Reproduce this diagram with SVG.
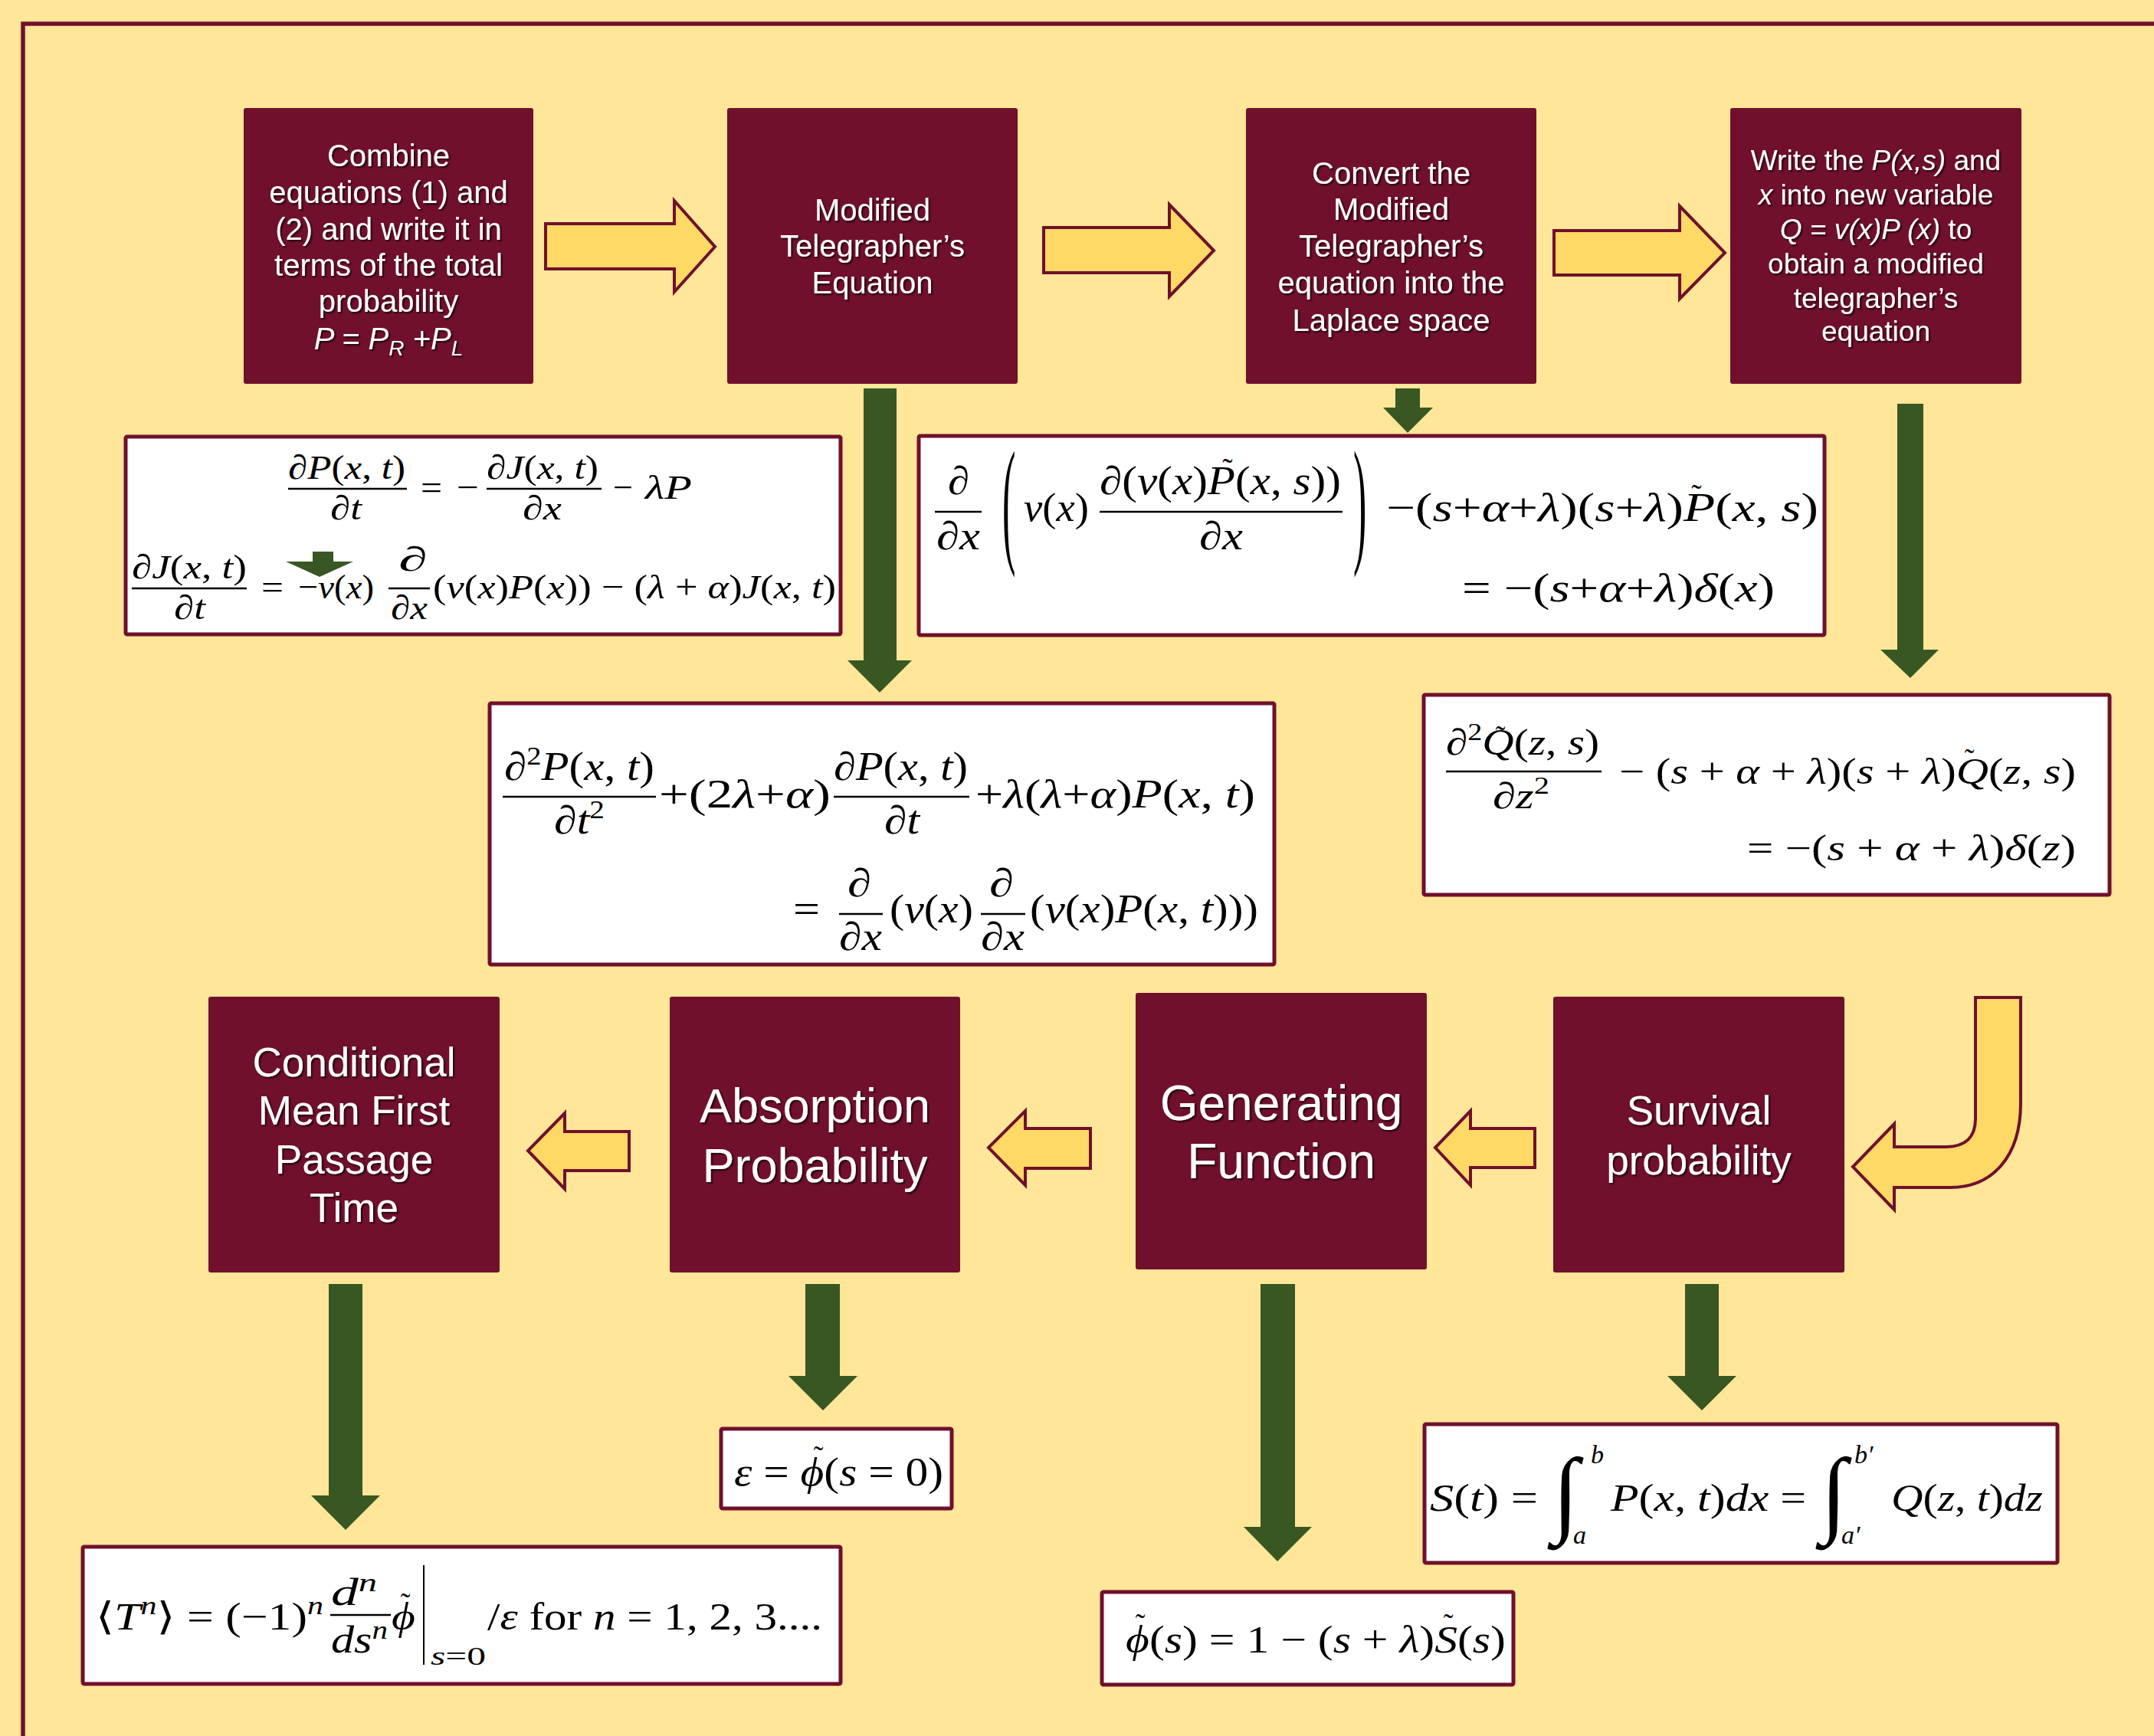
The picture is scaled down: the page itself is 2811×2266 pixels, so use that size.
<svg xmlns="http://www.w3.org/2000/svg" width="2811" height="2266" viewBox="0 0 2811 2266">
<defs>
<filter id="sh" x="-10%" y="-10%" width="120%" height="130%">
<feDropShadow dx="2" dy="2" stdDeviation="1.2" flood-color="#000" flood-opacity="0.7"/>
</filter>
<style>
.box{fill:#70102C}
.t{font-family:"Liberation Sans",Arial,sans-serif;fill:#fff;text-anchor:middle;filter:url(#sh)}
.eqb{fill:#fff;stroke:#70102C;stroke-width:5}
.m{font-family:"Liberation Serif","DejaVu Serif",serif;fill:#000}
.i{font-style:italic}
.bar{stroke:#000;stroke-width:2.4}
.ya{fill:#FFD966;stroke:#70102C;stroke-width:4;stroke-linejoin:miter}
.ga{fill:#385723}
.tl{font-family:"Liberation Serif","DejaVu Serif",serif;fill:#000;text-anchor:middle}
</style>
</defs>
<rect width="2811" height="2266" fill="#FFE699"/>
<path d="M30 2300 L30 31 L2850 31" fill="none" stroke="#70102C" stroke-width="5.5"/>

<g id="connectors">
<polygon class="ya" points="712,292 880,292 880,262 933,322 880,381 880,351 712,351"/>
<polygon class="ya" points="1362,297 1526,297 1526,267 1584,327 1526,387 1526,356 1362,356"/>
<polygon class="ya" points="2028,301 2192,301 2192,269 2251,330 2192,390 2192,359 2028,359"/>
<polygon class="ga" points="1127,507 1170,507 1170,862 1190,862 1148,904 1106,862 1127,862"/>
<polygon class="ga" points="1821,507 1853,507 1853,532 1870,532 1837,565 1805,532 1821,532"/>
<polygon class="ga" points="2476,527 2510,527 2510,848 2530,848 2493,885 2454,848 2476,848"/>
<polygon class="ya" points="821,1477 737,1477 737,1453 689,1502 737,1552 737,1528 821,1528"/>
<polygon class="ya" points="1423,1473 1338,1473 1338,1450 1290,1498 1338,1547 1338,1525 1423,1525"/>
<polygon class="ya" points="2003,1473 1919,1473 1919,1450 1873,1498 1919,1547 1919,1524 2003,1524"/>
<path class="ya" d="M2578 1302 L2637 1302 L2637 1440 C2637 1510 2600 1550 2545 1550 L2472 1550 L2472 1579 L2418 1523 L2472 1467 L2472 1497 L2538 1497 C2565 1497 2578 1485 2578 1460 Z"/>
<polygon class="ga" points="429,1676 473,1676 473,1952 496,1952 451,1997 406,1952 429,1952"/>
<polygon class="ga" points="1051,1676 1096,1676 1096,1796 1119,1796 1074,1841 1029,1796 1051,1796"/>
<polygon class="ga" points="1645,1676 1690,1676 1690,1993 1712,1993 1667,2038 1623,1993 1645,1993"/>
<polygon class="ga" points="2199,1676 2243,1676 2243,1796 2266,1796 2221,1841 2176,1796 2199,1796"/>
</g>

<g id="n-combine">
<rect class="box" x="318" y="141" width="378" height="360" rx="3"/>
<text class="t" font-size="40"><tspan x="507" y="217">Combine</tspan><tspan x="507" y="265">equations (1) and</tspan><tspan x="507" y="313">(2) and write it in</tspan><tspan x="507" y="360">terms of the total</tspan><tspan x="507" y="407">probability</tspan><tspan x="507" y="456" font-style="italic">P = P<tspan font-size="28" dy="8">R</tspan><tspan dy="-8"> +P</tspan><tspan font-size="28" dy="8">L</tspan></tspan></text>
</g>
<g id="n-modified">
<rect class="box" x="949" y="141" width="379" height="360" rx="3"/>
<text class="t" font-size="40"><tspan x="1138.5" y="288">Modified</tspan><tspan x="1138.5" y="335">Telegrapher’s</tspan><tspan x="1138.5" y="383">Equation</tspan></text>
</g>
<g id="n-convert">
<rect class="box" x="1626" y="141" width="379" height="360" rx="3"/>
<text class="t" font-size="40"><tspan x="1815.5" y="240">Convert the</tspan><tspan x="1815.5" y="287">Modified</tspan><tspan x="1815.5" y="335">Telegrapher’s</tspan><tspan x="1815.5" y="383">equation into the</tspan><tspan x="1815.5" y="432">Laplace space</tspan></text>
</g>
<g id="n-write">
<rect class="box" x="2258" y="141" width="380" height="360" rx="3"/>
<text class="t" font-size="37"><tspan x="2448" y="222">Write the <tspan font-style="italic">P(x,s)</tspan> and</tspan><tspan x="2448" y="267"><tspan font-style="italic">x</tspan> into new variable</tspan><tspan x="2448" y="312"><tspan font-style="italic">Q = v(x)P (x)</tspan> to</tspan><tspan x="2448" y="357">obtain a modified</tspan><tspan x="2448" y="402">telegrapher’s</tspan><tspan x="2448" y="445">equation</tspan></text>
</g>

<g id="n-cmfpt">
<rect class="box" x="272" y="1301" width="380" height="360" rx="3"/>
<text class="t" font-size="53"><tspan x="462" y="1405">Conditional</tspan><tspan x="462" y="1468">Mean First</tspan><tspan x="462" y="1532">Passage</tspan><tspan x="462" y="1595">Time</tspan></text>
</g>
<g id="n-absorption">
<rect class="box" x="874" y="1301" width="379" height="360" rx="3"/>
<text class="t" font-size="63"><tspan x="1063.5" y="1465">Absorption</tspan><tspan x="1063.5" y="1543">Probability</tspan></text>
</g>
<g id="n-generating">
<rect class="box" x="1482" y="1296" width="380" height="361" rx="3"/>
<text class="t" font-size="64"><tspan x="1672" y="1462">Generating</tspan><tspan x="1672" y="1538">Function</tspan></text>
</g>
<g id="n-survival">
<rect class="box" x="2027" y="1301" width="380" height="360" rx="3"/>
<text class="t" font-size="53"><tspan x="2217" y="1468">Survival</tspan><tspan x="2217" y="1533">probability</tspan></text>
</g>

<g id="eq-master">
<rect class="eqb" x="164" y="570" width="933" height="258" rx="2"/>
<g class="m" font-size="45">
<text x="376" y="625" textLength="153" lengthAdjust="spacingAndGlyphs">∂<tspan class="i">P</tspan>(<tspan class="i">x</tspan>, <tspan class="i">t</tspan>)</text>
<line class="bar" x1="376" y1="638" x2="531" y2="638"/>
<text x="431" y="678" textLength="41" lengthAdjust="spacingAndGlyphs">∂<tspan class="i">t</tspan></text>
<text x="549" y="651" textLength="28" lengthAdjust="spacingAndGlyphs">=</text>
<text x="596" y="651" textLength="29" lengthAdjust="spacingAndGlyphs">−</text>
<text x="635" y="625" textLength="146" lengthAdjust="spacingAndGlyphs">∂<tspan class="i">J</tspan>(<tspan class="i">x</tspan>, <tspan class="i">t</tspan>)</text>
<line class="bar" x1="635" y1="638" x2="785" y2="638"/>
<text x="682" y="678" textLength="51" lengthAdjust="spacingAndGlyphs">∂<tspan class="i">x</tspan></text>
<text x="800" y="651" textLength="26" lengthAdjust="spacingAndGlyphs">−</text>
<text x="842" y="651" textLength="61" lengthAdjust="spacingAndGlyphs" class="i">λP</text>
<text x="172" y="755" textLength="150" lengthAdjust="spacingAndGlyphs">∂<tspan class="i">J</tspan>(<tspan class="i">x</tspan>, <tspan class="i">t</tspan>)</text>
<line class="bar" x1="172" y1="768" x2="322" y2="768"/>
<text x="227" y="808" textLength="41" lengthAdjust="spacingAndGlyphs">∂<tspan class="i">t</tspan></text>
<text x="341" y="781" textLength="29" lengthAdjust="spacingAndGlyphs">=</text>
<text x="389" y="781" textLength="99" lengthAdjust="spacingAndGlyphs">−<tspan class="i">v</tspan>(<tspan class="i">x</tspan>)</text>
<text x="520" y="745" textLength="38" lengthAdjust="spacingAndGlyphs">∂</text>
<line class="bar" x1="507" y1="768" x2="561" y2="768"/>
<text x="510" y="808" textLength="48" lengthAdjust="spacingAndGlyphs">∂<tspan class="i">x</tspan></text>
<text x="565" y="781" textLength="526" lengthAdjust="spacingAndGlyphs">(<tspan class="i">v</tspan>(<tspan class="i">x</tspan>)<tspan class="i">P</tspan>(<tspan class="i">x</tspan>)) − (<tspan class="i">λ</tspan> + <tspan class="i">α</tspan>)<tspan class="i">J</tspan>(<tspan class="i">x</tspan>, <tspan class="i">t</tspan>)</text>
</g>
<polygon class="ga" points="408,720 435,720 435,733 461,733 417,753 373,733 408,733"/>
</g>

<g id="eq-laplace">
<rect class="eqb" x="1199" y="569" width="1182" height="260" rx="2"/>
<g class="m" font-size="52">
<text x="1237" y="645" textLength="28" lengthAdjust="spacingAndGlyphs">∂</text>
<line class="bar" x1="1220" y1="668" x2="1281" y2="668"/>
<text x="1222" y="717" textLength="57" lengthAdjust="spacingAndGlyphs">∂<tspan class="i">x</tspan></text>
<text transform="translate(1308,715) scale(1,3.5)">(</text>
<text x="1336" y="680" textLength="85" lengthAdjust="spacingAndGlyphs"><tspan class="i">v</tspan>(<tspan class="i">x</tspan>)</text>
<text x="1435" y="645" textLength="315" lengthAdjust="spacingAndGlyphs">∂(<tspan class="i">v</tspan>(<tspan class="i">x</tspan>)<tspan class="i">P</tspan>(<tspan class="i">x</tspan>, <tspan class="i">s</tspan>))</text>
<line class="bar" x1="1435" y1="668" x2="1752" y2="668"/>
<text x="1565" y="717" textLength="57" lengthAdjust="spacingAndGlyphs">∂<tspan class="i">x</tspan></text>
<text transform="translate(1766,715) scale(1,3.5)">)</text>
<text x="1809" y="680" textLength="564" lengthAdjust="spacingAndGlyphs">−(<tspan class="i">s</tspan>+<tspan class="i">α</tspan>+<tspan class="i">λ</tspan>)(<tspan class="i">s</tspan>+<tspan class="i">λ</tspan>)<tspan class="i">P</tspan>(<tspan class="i">x</tspan>, <tspan class="i">s</tspan>)</text>
<text x="1908" y="785" textLength="408" lengthAdjust="spacingAndGlyphs">= −(<tspan class="i">s</tspan>+<tspan class="i">α</tspan>+<tspan class="i">λ</tspan>)<tspan class="i">δ</tspan>(<tspan class="i">x</tspan>)</text>
</g>
<text class="tl" font-size="40" x="1602" y="626">˜</text>
<text class="tl" font-size="40" x="2214" y="660">˜</text>
</g>

<g id="eq-telegraph">
<rect class="eqb" x="639" y="918" width="1024" height="341" rx="2"/>
<g class="m" font-size="52">
<text x="658" y="1018" textLength="196" lengthAdjust="spacingAndGlyphs">∂<tspan font-size="34" dy="-20">2</tspan><tspan class="i" dy="20">P</tspan>(<tspan class="i">x</tspan>, <tspan class="i">t</tspan>)</text>
<line class="bar" x1="656" y1="1040" x2="856" y2="1040"/>
<text x="723" y="1088" textLength="66" lengthAdjust="spacingAndGlyphs">∂<tspan class="i">t</tspan><tspan font-size="34" dy="-20">2</tspan></text>
<text x="860" y="1054" textLength="224" lengthAdjust="spacingAndGlyphs">+(2<tspan class="i">λ</tspan>+<tspan class="i">α</tspan>)</text>
<text x="1088" y="1018" textLength="175" lengthAdjust="spacingAndGlyphs">∂<tspan class="i">P</tspan>(<tspan class="i">x</tspan>, <tspan class="i">t</tspan>)</text>
<line class="bar" x1="1088" y1="1040" x2="1265" y2="1040"/>
<text x="1154" y="1088" textLength="46" lengthAdjust="spacingAndGlyphs">∂<tspan class="i">t</tspan></text>
<text x="1273" y="1054" textLength="365" lengthAdjust="spacingAndGlyphs">+<tspan class="i">λ</tspan>(<tspan class="i">λ</tspan>+<tspan class="i">α</tspan>)<tspan class="i">P</tspan>(<tspan class="i">x</tspan>, <tspan class="i">t</tspan>)</text>
<text x="1035" y="1204" textLength="35" lengthAdjust="spacingAndGlyphs">=</text>
<text x="1106" y="1170" textLength="31" lengthAdjust="spacingAndGlyphs">∂</text>
<line class="bar" x1="1095" y1="1193" x2="1152" y2="1193"/>
<text x="1095" y="1240" textLength="56" lengthAdjust="spacingAndGlyphs">∂<tspan class="i">x</tspan></text>
<text x="1161" y="1204" textLength="109" lengthAdjust="spacingAndGlyphs">(<tspan class="i">v</tspan>(<tspan class="i">x</tspan>)</text>
<text x="1291" y="1170" textLength="32" lengthAdjust="spacingAndGlyphs">∂</text>
<line class="bar" x1="1280" y1="1193" x2="1338" y2="1193"/>
<text x="1280" y="1240" textLength="57" lengthAdjust="spacingAndGlyphs">∂<tspan class="i">x</tspan></text>
<text x="1344" y="1204" textLength="298" lengthAdjust="spacingAndGlyphs">(<tspan class="i">v</tspan>(<tspan class="i">x</tspan>)<tspan class="i">P</tspan>(<tspan class="i">x</tspan>, <tspan class="i">t</tspan>)))</text>
</g>
</g>

<g id="eq-q">
<rect class="eqb" x="1858" y="907" width="895" height="261" rx="2"/>
<g class="m" font-size="48">
<text x="1887" y="985" textLength="200" lengthAdjust="spacingAndGlyphs">∂<tspan font-size="32" dy="-19">2</tspan><tspan class="i" dy="19">Q</tspan>(<tspan class="i">z</tspan>, <tspan class="i">s</tspan>)</text>
<line class="bar" x1="1887" y1="1007" x2="2090" y2="1007"/>
<text x="1948" y="1055" textLength="74" lengthAdjust="spacingAndGlyphs">∂<tspan class="i">z</tspan><tspan font-size="32" dy="-19">2</tspan></text>
<text x="2113" y="1023" textLength="596" lengthAdjust="spacingAndGlyphs">− (<tspan class="i">s</tspan> + <tspan class="i">α</tspan> + <tspan class="i">λ</tspan>)(<tspan class="i">s</tspan> + <tspan class="i">λ</tspan>)<tspan class="i">Q</tspan>(<tspan class="i">z</tspan>, <tspan class="i">s</tspan>)</text>
<text x="2280" y="1123" textLength="429" lengthAdjust="spacingAndGlyphs">= −(<tspan class="i">s</tspan> + <tspan class="i">α</tspan> + <tspan class="i">λ</tspan>)<tspan class="i">δ</tspan>(<tspan class="i">z</tspan>)</text>
</g>
<text class="tl" font-size="38" x="1958" y="974">˜</text>
<text class="tl" font-size="38" x="2570" y="1004">˜</text>
</g>

<g id="eq-survival">
<rect class="eqb" x="1859" y="1859" width="826" height="181" rx="2"/>
<g class="m" font-size="50">
<text x="1866" y="1972" textLength="141" lengthAdjust="spacingAndGlyphs"><tspan class="i">S</tspan>(<tspan class="i">t</tspan>) =</text>
<text x="2026" y="1990" font-size="125" class="i">∫</text>
<text x="2076" y="1910" font-size="34" class="i">b</text>
<text x="2053" y="2015" font-size="34" class="i">a</text>
<text x="2102" y="1972" textLength="255" lengthAdjust="spacingAndGlyphs"><tspan class="i">P</tspan>(<tspan class="i">x</tspan>, <tspan class="i">t</tspan>)<tspan class="i">dx</tspan> =</text>
<text x="2376" y="1990" font-size="125" class="i">∫</text>
<text x="2420" y="1910" font-size="34" class="i">b′</text>
<text x="2403" y="2015" font-size="34" class="i">a′</text>
<text x="2468" y="1972" textLength="198" lengthAdjust="spacingAndGlyphs"><tspan class="i">Q</tspan>(<tspan class="i">z</tspan>, <tspan class="i">t</tspan>)<tspan class="i">dz</tspan></text>
</g>
</g>

<g id="eq-phi">
<rect class="eqb" x="1438" y="2078" width="537" height="121" rx="2"/>
<text class="m" font-size="50" x="1469" y="2157" textLength="496" lengthAdjust="spacingAndGlyphs"><tspan class="i">ϕ</tspan>(<tspan class="i">s</tspan>) = 1 − (<tspan class="i">s</tspan> + <tspan class="i">λ</tspan>)<tspan class="i">S</tspan>(<tspan class="i">s</tspan>)</text>
<text class="tl" font-size="38" x="1488" y="2133">˜</text>
<text class="tl" font-size="38" x="1890" y="2133">˜</text>
</g>

<g id="eq-epsilon">
<rect class="eqb" x="941" y="1865" width="301" height="104" rx="2"/>
<text class="m" font-size="52" x="958" y="1939" textLength="273" lengthAdjust="spacingAndGlyphs"><tspan class="i">ε</tspan> = <tspan class="i">ϕ</tspan>(<tspan class="i">s</tspan> = 0)</text>
<text class="tl" font-size="38" x="1068" y="1914">˜</text>
</g>

<g id="eq-moments">
<rect class="eqb" x="108" y="2019" width="989" height="179" rx="2"/>
<g class="m" font-size="50">
<text x="125" y="2127" textLength="297" lengthAdjust="spacingAndGlyphs">⟨<tspan class="i">T</tspan><tspan class="i" font-size="34" dy="-20">n</tspan><tspan dy="20">⟩ = (−1)</tspan><tspan class="i" font-size="34" dy="-20">n</tspan></text>
<text x="432" y="2095" textLength="60" lengthAdjust="spacingAndGlyphs" class="i">d<tspan font-size="34" dy="-18">n</tspan></text>
<line class="bar" x1="431" y1="2108" x2="510" y2="2108"/>
<text x="432" y="2157" textLength="74" lengthAdjust="spacingAndGlyphs" class="i">ds<tspan font-size="34" dy="-18">n</tspan></text>
<text x="511" y="2127" textLength="31" lengthAdjust="spacingAndGlyphs" class="i">ϕ</text>
<line x1="553" y1="2043" x2="553" y2="2173" stroke="#000" stroke-width="2"/>
<text x="562" y="2173" textLength="72" lengthAdjust="spacingAndGlyphs" font-size="34"><tspan class="i">s</tspan>=0</text>
<text x="636" y="2127" textLength="437" lengthAdjust="spacingAndGlyphs">/<tspan class="i">ε</tspan>  for  <tspan class="i">n</tspan> = 1, 2, 3....</text>
</g>
<text class="tl" font-size="38" x="529" y="2106">˜</text>
</g>
</svg>
